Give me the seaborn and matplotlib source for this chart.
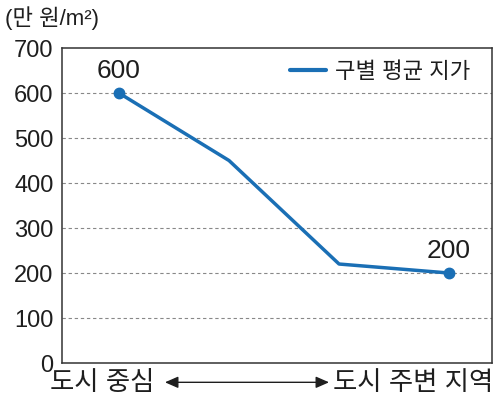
import matplotlib
matplotlib.use("Agg")
import matplotlib.pyplot as plt
import seaborn as sns
import pandas as pd

# Average land price by district, from city centre outwards
positions = [0, 1, 2, 3]
prices = [600, 450, 220, 200]
series_label = "구별 평균 지가"
y_ticks = [0, 100, 200, 300, 400, 500, 600, 700]
unit_label = "(만 원/m²)"
left_label = "도시 중심"
right_label = "도시 주변 지역"

sns.set_style("white")
plt.rcParams["font.family"] = ["Liberation Sans", "Noto Sans CJK KR", "DejaVu Sans"]

df = pd.DataFrame({"pos": positions, "price": prices})
blue = "#1a6fb5"
ink = "#1e1e1e"

fig = plt.figure(figsize=(4.99, 3.97), dpi=100)
ax = fig.add_axes([0.1242, 0.0856, 0.8618, 0.7934])

sns.lineplot(data=df, x="pos", y="price", ax=ax, color=blue, linewidth=2.5,
             label=series_label)
# endpoint markers and value labels
ends = df.iloc[[0, -1]]
ax.plot(ends["pos"], ends["price"], "o", color=blue, markersize=7.5, zorder=5)
for _, r in ends.iterrows():
    ax.annotate(f"{int(r['price'])}", (r["pos"], r["price"]),
                xytext=(0, 7), textcoords="offset points",
                ha="center", va="bottom", fontsize=19, color=ink)

ax.set_xlim(-0.518, 3.39)
ax.set_ylim(0, 700)
ax.set_yticks(y_ticks)
ax.set_yticklabels([str(t) for t in y_ticks], fontsize=17, color=ink)
ax.set_xticks([])
ax.set_xlabel("")
ax.set_ylabel("")
ax.tick_params(axis="y", length=0, pad=6)
for t in y_ticks[1:-1]:
    ax.axhline(t, color="#888888", linestyle=(0, (3, 2.5)), linewidth=0.8, zorder=0)
for s in ax.spines.values():
    s.set_color("#333333")
    s.set_linewidth(1.1)

leg = ax.legend(loc="upper right", frameon=False, fontsize=16,
                handlelength=1.6, handletextpad=0.4,
                bbox_to_anchor=(0.995, 1.02))
for t in leg.get_texts():
    t.set_color(ink)
for h in leg.get_lines():
    h.set_linewidth(3)

fig.text(0.01, 0.955, unit_label, fontsize=16, ha="left", va="center", color=ink)
fig.text(0.1, 0.035, left_label, fontsize=19, ha="left", va="center", color=ink)
fig.text(0.988, 0.035, right_label, fontsize=19, ha="right", va="center", color=ink)
fig.add_artist(matplotlib.patches.FancyArrowPatch(
    (0.325, 0.037), (0.665, 0.037), transform=fig.transFigure,
    arrowstyle="<|-|>,head_length=8,head_width=3.5", color=ink,
    linewidth=1.0, mutation_scale=1))

fig.savefig("out.png", dpi=100)
